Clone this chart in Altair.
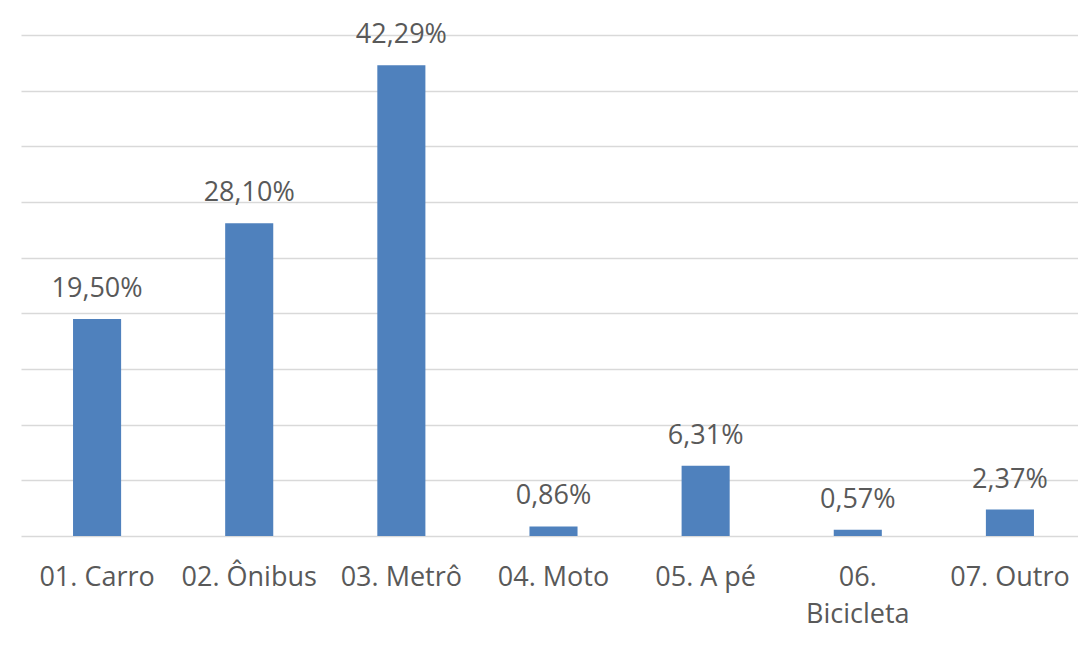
import altair as alt
import pandas as pd

categories = ["01. Carro", "02. Ônibus", "03. Metrô", "04. Moto", "05. A pé", "06. Bicicleta", "07. Outro"]
values = [19.50, 28.10, 42.29, 0.86, 6.31, 0.57, 2.37]
labels = ["19,50%", "28,10%", "42,29%", "0,86%", "6,31%", "0,57%", "2,37%"]

df = pd.DataFrame({"cat": categories, "val": values, "lab": labels})

FONT = "Open Sans"
GRAY = "#595959"

xscale = alt.Scale(paddingInner=0.684, paddingOuter=0.342, range=[-1, 1064])

x = alt.X(
    "cat:N",
    sort=categories,
    title=None,
    scale=xscale,
    axis=alt.Axis(
        domain=False,
        ticks=False,
        labelAngle=0,
        labelFont=FONT,
        labelFontSize=27,
        labelColor=GRAY,
        labelBaseline="alphabetic",
        labelPadding=49,
        labelLineHeight=37,
        labelExpr="length(datum.label) > 11 ? split(datum.label, ' ') : datum.label",
    ),
)
y = alt.Y(
    "val:Q",
    title=None,
    scale=alt.Scale(domain=[0, 45], nice=False),
    axis=alt.Axis(
        values=[0, 5, 10, 15, 20, 25, 30, 35, 40, 45],
        labels=False,
        ticks=False,
        domain=False,
        grid=True,
        gridColor="#d9d9d9",
        gridWidth=1.3,
    ),
)

bars = alt.Chart(df).mark_bar(color="#4f81bd").encode(x=x, y=y)
text = alt.Chart(df).mark_text(
    font=FONT, fontSize=27, color=GRAY, baseline="alphabetic", dy=-22
).encode(x=alt.X("cat:N", sort=categories), y="val:Q", text="lab:N")

chart = (
    alt.layer(bars, text)
    .properties(
        width=1056,
        height=501,
        autosize=alt.AutoSizeParams(type="none"),
        padding={"left": 14, "top": 27, "right": 0, "bottom": 100},
    )
    .configure_view(stroke=None)
)

chart.save("out.html", embed_options={"renderer": "svg", "actions": False})
